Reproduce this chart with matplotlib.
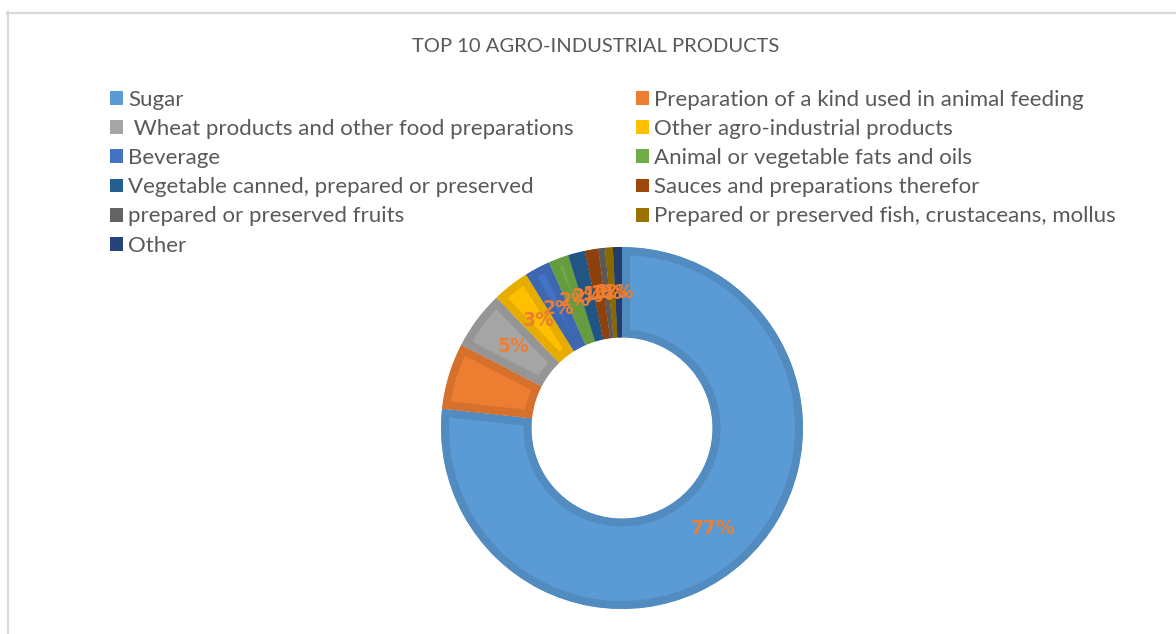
import matplotlib
matplotlib.use("Agg")
import matplotlib.pyplot as plt
from matplotlib.patches import Patch
from matplotlib.lines import Line2D
import matplotlib.colors as mcolors

plt.rcParams['font.family'] = ['Lato', 'DejaVu Sans']

title = "TOP 10 AGRO-INDUSTRIAL PRODUCTS"
categories = [
    "Sugar",
    "Preparation of a kind used in animal feeding",
    " Wheat products and other food preparations",
    "Other agro-industrial products",
    "Beverage",
    "Animal or vegetable fats and oils",
    "Vegetable canned, prepared or preserved",
    "Sauces and preparations therefor",
    "prepared or preserved fruits",
    "Prepared or preserved fish, crustaceans, mollus",
    "Other",
]
values = [76.7, 5.9, 5.2, 3.3, 2.3, 1.8, 1.5, 1.2, 0.6, 0.7, 0.8]
colors = ["#5B9BD5", "#ED7D31", "#A5A5A5", "#FFC000", "#4472C4", "#70AD47",
          "#255E91", "#9E480E", "#636363", "#997300", "#264478"]

W, H = 1176, 634
fig = plt.figure(figsize=(W / 100, H / 100), dpi=100)
fig.patch.set_facecolor("white")

def fx(px):
    return px / W

def fy(py):
    return 1 - py / H

# chart-area border (light gray), running off right/bottom edges
fig.add_artist(Line2D([fx(7.5), fx(7.5)], [fy(12), fy(640)], color="#D9D9D9", lw=1.6))
fig.add_artist(Line2D([fx(7), fx(1180)], [fy(12.5), fy(12.5)], color="#D9D9D9", lw=1.6))

fig.text(fx(596), fy(46), title, ha="center", va="center", fontsize=14.5, color="#595959")

# donut
cx, cy, r = 622, 428, 181
ax = fig.add_axes([fx(cx - r), fy(cy + r), (2 * r) / W, (2 * r) / H])
wedges, texts, autotexts = ax.pie(
    values, colors=colors, startangle=90, counterclock=False,
    radius=1.0, wedgeprops=dict(width=0.5),
    autopct="%1.0f%%", pctdistance=0.75,
    textprops=dict(color="#ED7D31", fontsize=13.5, fontweight="bold",
                   family="DejaVu Sans"),
)
for w, c in zip(wedges, colors):
    rgb = mcolors.to_rgb(c)
    w.set_edgecolor(tuple(v * 0.9 for v in rgb))
    w.set_linewidth(11.5)
    w.set_clip_on(True)
    w.set_clip_path(w)
ax.set_xlim(-1, 1)
ax.set_ylim(-1, 1)
ax.set_aspect("equal")
ax.axis("off")

# legend: two columns, row-major order as in reference
handles = [Patch(facecolor=c, edgecolor="none") for c in colors]
fs = 16.0
fpx = fs * 100 / 72
common = dict(frameon=False, fontsize=fs, labelcolor="#595959", loc="upper left",
              borderpad=0, borderaxespad=0, handlelength=13 / fpx, handleheight=13 / fpx,
              handletextpad=5.6 / fpx, labelspacing=0.41)
left_idx = [0, 2, 4, 6, 8, 10]
right_idx = [1, 3, 5, 7, 9]
leg1 = fig.legend([handles[i] for i in left_idx], [categories[i] for i in left_idx],
                  bbox_to_anchor=(fx(109.5), fy(90)), **common)
leg2 = fig.legend([handles[i] for i in right_idx], [categories[i] for i in right_idx],
                  bbox_to_anchor=(fx(635.5), fy(90)), **common)

fig.savefig("out.png", dpi=100)
